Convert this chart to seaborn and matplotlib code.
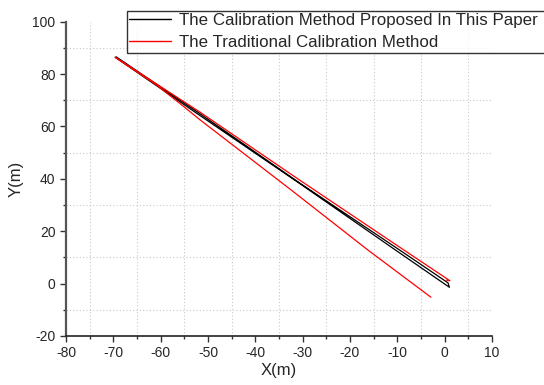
import numpy as np
import pandas as pd
import seaborn as sns
import matplotlib.pyplot as plt
from matplotlib.ticker import MultipleLocator

# path of the proposed method (out and back)
prop_x = [-69.6, -51.8, -30.7, -9.5, 1.0, 0.7, -9.5, -30.7, -51.8, -69.4]
prop_y = [86.4, 64.3, 38.3, 11.7, -1.4, 0.3, 12.8, 38.5, 65.0, 86.6]

# path of the traditional method
trad_x = [-2.9, -16.2, -32.4, -51.8, -55.4, -61.0, -69.6, -51.8, -30.7, -9.5, 1.1, 0.4]
trad_y = [-5.2, 12.8, 35.7, 62.7, 68.0, 76.0, 86.4, 65.6, 39.6, 13.9, 1.1, 1.3]

labels = ['The Calibration Method Proposed In This Paper', 'The Traditional Calibration Method']

df = pd.concat([
    pd.DataFrame({'x': prop_x, 'y': prop_y, 'method': labels[0]}),
    pd.DataFrame({'x': trad_x, 'y': trad_y, 'method': labels[1]}),
], ignore_index=True)

sns.set_style('ticks')
plt.rcParams['font.family'] = ['Liberation Sans', 'DejaVu Sans']
plt.rcParams['axes.unicode_minus'] = False

fig = plt.figure(figsize=(5.44, 3.85), dpi=100)
ax = fig.add_axes([0.1213, 0.1273, 0.7831, 0.8164])

sns.lineplot(data=df, x='x', y='y', hue='method', sort=False, estimator=None,
             palette={labels[0]: 'black', labels[1]: 'red'}, linewidth=0.9, ax=ax, legend=False)

ax.set_xlim(-80, 10)
ax.set_ylim(-20, 100)
ax.xaxis.set_major_locator(MultipleLocator(10))
ax.xaxis.set_minor_locator(MultipleLocator(5))
ax.yaxis.set_major_locator(MultipleLocator(20))
ax.yaxis.set_minor_locator(MultipleLocator(10))
ax.grid(True, which='minor', linestyle=(0, (1, 2)), color='#c8c8c8', linewidth=0.8)
ax.grid(False, which='major')

for side in ['top', 'right']:
    ax.spines[side].set_visible(False)
ax.spines['left'].set_color('#555555')
ax.spines['left'].set_linewidth(1.6)
ax.spines['bottom'].set_color('#222222')
ax.spines['bottom'].set_linewidth(1.2)
ax.tick_params(which='major', length=4, width=1, direction='out', labelsize=10, color='#333333')
ax.tick_params(which='minor', length=2.5, width=1, direction='out', color='#333333')

ax.set_xlabel('X(m)', fontsize=12, labelpad=2)
ax.set_ylabel('Y(m)', fontsize=12, labelpad=6)

handles = [plt.Line2D([], [], color='black', lw=1), plt.Line2D([], [], color='red', lw=1)]
# frame runs off the right edge of the figure, as in the original
leg = fig.legend(handles, labels, loc='upper left', bbox_to_anchor=(0.2335, 0.5, 0.85, 0.4727),
                 mode='expand', fontsize=12.2, frameon=True, fancybox=False, borderpad=0.14,
                 handlelength=2.45, handletextpad=0.5, labelspacing=0.43, borderaxespad=0)
leg.get_frame().set_edgecolor('black')
leg.get_frame().set_linewidth(1.0)

fig.savefig('out.png', dpi=100)
